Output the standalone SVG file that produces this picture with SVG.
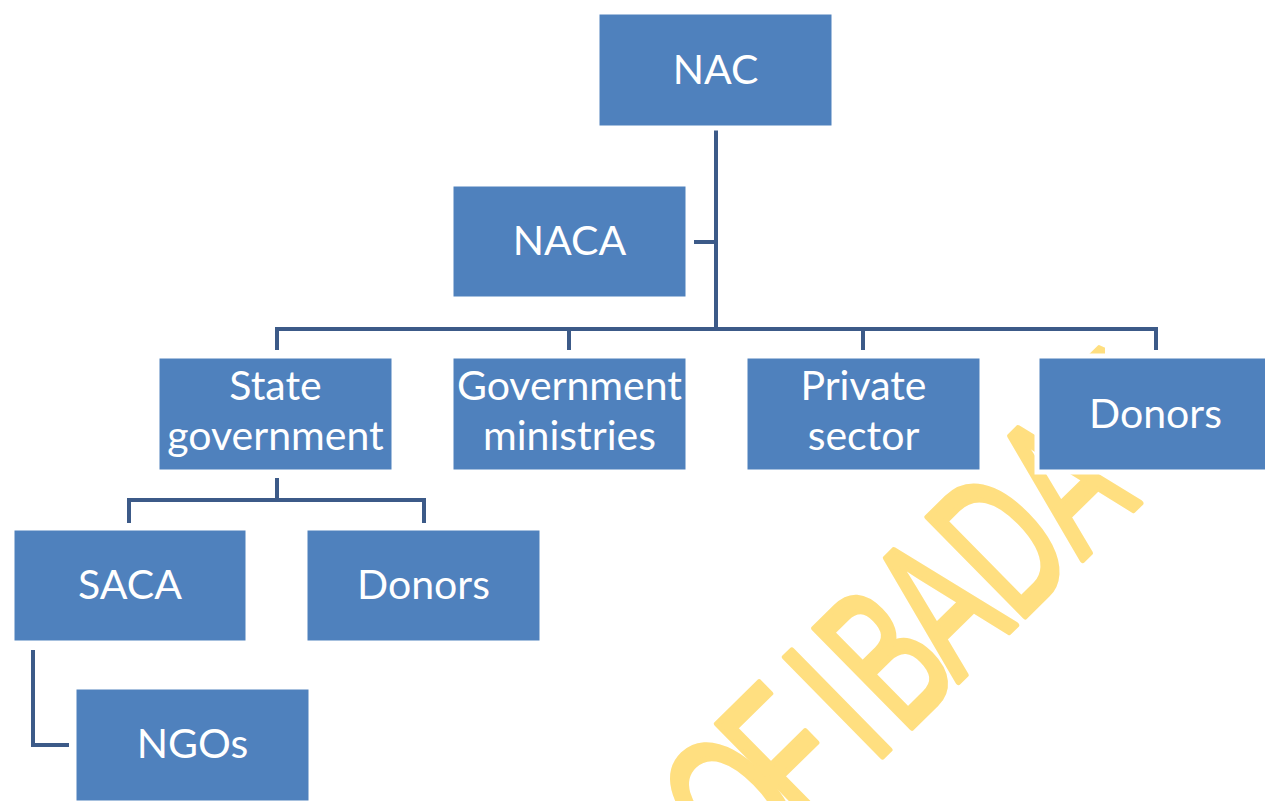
<svg xmlns="http://www.w3.org/2000/svg" width="1265" height="801" viewBox="0 0 1265 801">
  <style>
    .box { fill: #4F81BD; stroke: #FFFFFF; stroke-width: 5; }
    .lbl { font-family: "Lato", "Liberation Sans", sans-serif; font-size: 41px; fill: #FFFFFF; text-anchor: middle; }
    .wire { fill: none; stroke: #3C5A88; stroke-width: 4; stroke-linejoin: miter; stroke-linecap: butt; }
    .mark { font-family: "Liberation Sans", sans-serif; font-size: 202px; fill: #FFDF80; stroke: #FFDF80; stroke-width: 5; stroke-linejoin: round; vector-effect: non-scaling-stroke; }
  </style>

  <defs>
    <!-- the watermark stops at the top edge of the right-hand Donors box -->
    <clipPath id="markClip">
      <polygon points="0,0 1105,0 1105,356 1265,356 1265,801 0,801"/>
    </clipPath>
  </defs>

  <rect width="1265" height="801" fill="#FFFFFF"/>

  <!-- background watermark -->
  <g id="watermark" clip-path="url(#markClip)">
    <text class="mark" transform="translate(886,753) rotate(-44.5) scale(0.62,1)" x="-314 -179.7 -56.3 -28.2 40.3 161.8 296 442.4 666.1" y="0">OF IBADAN</text>
  </g>

  <!-- connectors -->
  <g id="connectors">
    <path class="wire" d="M716,128 V329"/>
    <path class="wire" d="M694,242 H716"/>
    <path class="wire" d="M277,350 V329 H1156 V350"/>
    <path class="wire" d="M569,329 V350"/>
    <path class="wire" d="M863,329 V350"/>
    <path class="wire" d="M277,478 V500"/>
    <path class="wire" d="M129,523 V500 H424 V523"/>
    <path class="wire" d="M33,650 V745 H69"/>
  </g>

  <g id="nac">
    <rect class="box" x="597" y="12" width="237" height="116"/>
    <text class="lbl" x="715.5" y="84">NAC</text>
  </g>
  <g id="naca">
    <rect class="box" x="451" y="184" width="237" height="115"/>
    <text class="lbl" x="569.5" y="255">NACA</text>
  </g>
  <g id="state-government">
    <rect class="box" x="157" y="356" width="237" height="116"/>
    <text class="lbl" x="275.5" y="400">State</text>
    <text class="lbl" x="275.5" y="450">government</text>
  </g>
  <g id="government-ministries">
    <rect class="box" x="451" y="356" width="237" height="116"/>
    <text class="lbl" x="569.5" y="400">Government</text>
    <text class="lbl" x="569.5" y="450">ministries</text>
  </g>
  <g id="private-sector">
    <rect class="box" x="745" y="356" width="237" height="116"/>
    <text class="lbl" x="863.5" y="400">Private</text>
    <text class="lbl" x="863.5" y="450">sector</text>
  </g>
  <g id="donors-national">
    <rect class="box" x="1037" y="356" width="237" height="116"/>
    <text class="lbl" x="1155.5" y="428">Donors</text>
  </g>
  <g id="saca">
    <rect class="box" x="12" y="528" width="236" height="115"/>
    <text class="lbl" x="130" y="599">SACA</text>
  </g>
  <g id="donors-state">
    <rect class="box" x="305" y="528" width="237" height="115"/>
    <text class="lbl" x="423.5" y="599">Donors</text>
  </g>
  <g id="ngos">
    <rect class="box" x="74" y="687" width="237" height="116"/>
    <text class="lbl" x="192.5" y="758">NGOs</text>
  </g>
</svg>
